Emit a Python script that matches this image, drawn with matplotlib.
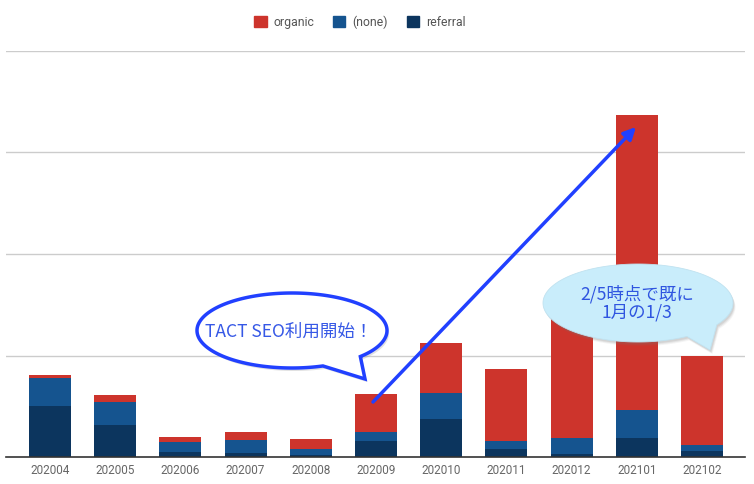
import numpy as np
import matplotlib
matplotlib.use("Agg")
from matplotlib import pyplot as plt
import matplotlib.patches as mpatches

plt.rcParams['font.family'] = ['Roboto', 'Noto Sans CJK JP', 'DejaVu Sans']

months = ["202004", "202005", "202006", "202007", "202008", "202009",
          "202010", "202011", "202012", "202101", "202102"]
referral = [50, 32, 5, 4, 2, 16, 37, 8, 3, 19, 6]
none_src = [28, 22, 10, 13, 6, 9, 26, 8, 16, 27, 6]
organic = [3, 7, 5, 8, 10, 37, 49, 71, 140, 291, 88]

c_org = "#cd342c"
c_none = "#15548f"
c_ref = "#0c355e"

W, H = 754, 484
fig = plt.figure(figsize=(W / 100, H / 100), dpi=100)
ax = fig.add_axes([6 / W, (H - 457) / H, 739 / W, 406 / H])

x = np.arange(len(months))
ref = np.array(referral)
non = np.array(none_src)
org = np.array(organic)
bw = 0.645
ax.bar(x, ref, bw, color=c_ref, zorder=3)
ax.bar(x, non, bw, bottom=ref, color=c_none, zorder=3)
ax.bar(x, org, bw, bottom=ref + non, color=c_org, zorder=3)

ax.set_xlim(-0.675, 10.66)
ax.set_ylim(0, 400)
ax.set_yticks([100, 200, 300, 400])
ax.set_yticklabels([])
ax.grid(axis="y", color="#cccccc", linewidth=1, zorder=0)
ax.set_axisbelow(True)
ax.set_xticks(x)
ax.set_xticklabels(months, color="#666666", fontsize=8.5)
ax.tick_params(axis="both", length=0, pad=5)
for s in ["top", "right", "left"]:
    ax.spines[s].set_visible(False)
ax.spines["bottom"].set_color("#333333")
ax.spines["bottom"].set_linewidth(1.2)
ax.spines["bottom"].set_zorder(4)

handles = [mpatches.Patch(color=c_org, label="organic"),
           mpatches.Patch(color=c_none, label="(none)"),
           mpatches.Patch(color=c_ref, label="referral")]
fig.legend(handles=handles, loc="center", bbox_to_anchor=(360 / W, 1 - 22 / H),
           ncol=3, frameon=False, fontsize=8.8, handlelength=1.0,
           handleheight=1.0, handletextpad=0.6, columnspacing=1.5,
           labelcolor="#555555")

# overlay in pixel coordinates for the annotations
ov = fig.add_axes([0, 0, 1, 1], zorder=10)
ov.set_xlim(0, W)
ov.set_ylim(H, 0)
ov.axis("off")


def bubble(cx, cy, a, b, t_from, t_to, tip):
    t = np.radians(np.linspace(t_from, t_to, 200))
    pts = np.column_stack([cx + a * np.cos(t), cy + b * np.sin(t)])
    return np.vstack([pts, [tip]])


# arrow from 202009 to 202101
ov.annotate("", xy=(636, 127), xytext=(373, 402),
            arrowprops=dict(arrowstyle="-|>", color="#2140ff", lw=2.5,
                            mutation_scale=18, shrinkA=0, shrinkB=0))

# bubble 1
b1 = bubble(292, 330.5, 95, 37.5, 71, 404, (365, 379))
ov.add_patch(mpatches.Polygon(b1 + [2, 3], closed=True, facecolor="#888888",
                              edgecolor="none", alpha=0.25))
ov.add_patch(mpatches.Polygon(b1, closed=True, facecolor="white",
                              edgecolor="#2140ff", linewidth=2.5))
ov.text(289, 332, "TACT SEO利用開始！", ha="center", va="center",
        fontsize=12.6, color="#3658e6",
        family=["Noto Sans CJK JP", "DejaVu Sans"])

# bubble 2
b2 = bubble(638, 303, 95, 39, 59, 394, (710, 350))
for d, al in [(4, 0.08), (3, 0.12), (2, 0.15)]:
    ov.add_patch(mpatches.Polygon(b2 + [d * 0.6, d], closed=True,
                                  facecolor="#777777", edgecolor="none",
                                  alpha=al))
ov.add_patch(mpatches.Polygon(b2, closed=True, facecolor="#c9edfb",
                              edgecolor="#c0e2f0", linewidth=0.6))
ov.text(637, 303, "2/5時点で既に\n1月の1/3", ha="center", va="center",
        fontsize=12.6, color="#2f55e0", linespacing=1.02,
        family=["Noto Sans CJK JP", "DejaVu Sans"])

fig.savefig("out.png", dpi=100)
